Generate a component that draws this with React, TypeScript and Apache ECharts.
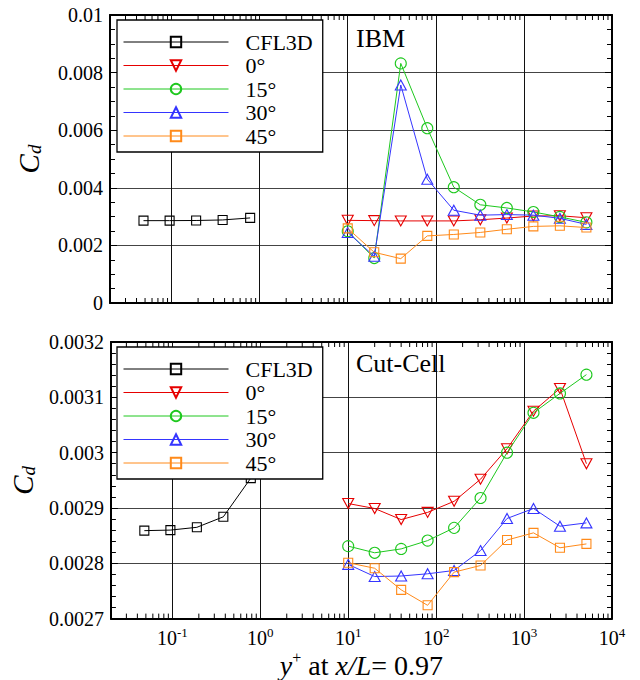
import React, { useEffect, useRef } from 'react';
import * as echarts from 'echarts';

const SERIES_NAMES = ['CFL3D', '0°', '15°', '30°', '45°'];
const SERIES_COLORS = ['#000000', '#e60000', '#1ec81e', '#3535ff', '#ff8a1a'];

const YPLUS_CFL3D = [0.048, 0.095, 0.19, 0.38, 0.78];
const YPLUS_GRID = [10, 20, 40, 80, 160, 320, 640, 1280, 2560, 5120];

const CFL3D_CD = [0.002859, 0.00286, 0.002865, 0.002884, 0.002954];

const IBM_0 = [0.00287, 0.00286, 0.00285, 0.00285, 0.00285, 0.00289, 0.00295, 0.00302, 0.00303, 0.00296];
const IBM_15 = [0.00249, 0.00156, 0.00832, 0.00607, 0.00402, 0.00341, 0.0033, 0.00316, 0.00299, 0.0028];
const IBM_30 = [0.00245, 0.00162, 0.00757, 0.0043, 0.00322, 0.00305, 0.00307, 0.00305, 0.00294, 0.00273];
const IBM_45 = [0.00259, 0.00176, 0.00154, 0.00233, 0.00238, 0.00245, 0.00256, 0.00266, 0.00268, 0.00262];

const CC_0 = [0.002908, 0.002899, 0.002879, 0.002892, 0.002912, 0.002952, 0.003007, 0.003075, 0.003116, 0.00298];
const CC_15 = [0.002831, 0.002819, 0.002826, 0.002841, 0.002864, 0.002918, 0.003, 0.003072, 0.003107, 0.003141];
const CC_30 = [0.002798, 0.002776, 0.002777, 0.002781, 0.002787, 0.002823, 0.002881, 0.002899, 0.002867, 0.002873];
const CC_45 = [0.002801, 0.002791, 0.002752, 0.002724, 0.002784, 0.002796, 0.002842, 0.002855, 0.002828, 0.002835];

const X_MIN = 0.02;
const X_MAX = 10000;
const TOP_Y = { min: 0, max: 0.01, interval: 0.002, minor: 4 };
const BOT_Y = { min: 0.0027, max: 0.0032, interval: 0.0001, minor: 5 };

// minor tick multiples within each decade of the log axis
const MINOR_MULT = [2, 3, 4, 5, 6, 7, 8, 9];
const DECADES = [0.01, 0.1, 1, 10, 100, 1000];

const FONT = '"Liberation Serif", "Times New Roman", serif';

function zip(xs: number[], ys: number[]) {
  return xs.map((x, i) => [x, ys[i]]);
}

export default function App() {
  const ref = useRef<HTMLDivElement>(null);

  useEffect(() => {
    if (!ref.current) return;
    const chart = echarts.init(ref.current, undefined, { renderer: 'svg' });

    const minorX: number[] = [];
    DECADES.forEach((d) => MINOR_MULT.forEach((m) => {
      const v = m * d;
      if (v > X_MIN * 1.0001 && v < X_MAX) minorX.push(v);
    }));

    const symbols = [
      { symbol: 'rect', size: 9, rotate: 0 },
      { symbol: 'triangle', size: [11, 10], rotate: 180 },
      { symbol: 'circle', size: 11, rotate: 0 },
      { symbol: 'triangle', size: [11, 10], rotate: 0 },
      { symbol: 'rect', size: 9, rotate: 0 },
    ];

    const panels = [
      [zip(YPLUS_CFL3D, CFL3D_CD), zip(YPLUS_GRID, IBM_0), zip(YPLUS_GRID, IBM_15), zip(YPLUS_GRID, IBM_30), zip(YPLUS_GRID, IBM_45)],
      [zip(YPLUS_CFL3D, CFL3D_CD), zip(YPLUS_GRID, CC_0), zip(YPLUS_GRID, CC_15), zip(YPLUS_GRID, CC_30), zip(YPLUS_GRID, CC_45)],
    ];
    const yRanges = [TOP_Y, BOT_Y];

    const series: any[] = [];
    panels.forEach((panel, pi) => {
      panel.forEach((data, si) => {
        const c = SERIES_COLORS[si];
        series.push({
          type: 'line',
          name: SERIES_NAMES[si],
          xAxisIndex: pi * 2,
          yAxisIndex: pi * 2,
          data,
          symbol: symbols[si].symbol,
          symbolSize: symbols[si].size,
          symbolRotate: symbols[si].rotate,
          showAllSymbol: true,
          lineStyle: { color: c, width: 1 },
          itemStyle: { color: 'rgba(255,255,255,0)', borderColor: c, borderWidth: 1.1 },
          emphasis: { disabled: true },
          z: 3 + si,
        });
      });
      const yr = yRanges[pi];
      series.push({
        type: 'custom',
        name: 'minor-x-' + pi,
        xAxisIndex: pi * 2,
        yAxisIndex: pi * 2,
        silent: true,
        clip: false,
        z: 10,
        data: minorX.map((x) => [x, yr.min]),
        renderItem: (params: any, api: any) => {
          const x = api.value(0);
          const b = api.coord([x, yr.min]);
          const t = api.coord([x, yr.max]);
          const st = { stroke: '#000', lineWidth: 1 };
          return {
            type: 'group',
            children: [
              { type: 'line', shape: { x1: b[0], y1: b[1], x2: b[0], y2: b[1] - 5 }, style: st },
              { type: 'line', shape: { x1: t[0], y1: t[1], x2: t[0], y2: t[1] + 5 }, style: st },
            ],
          };
        },
      });
    });

    const fmtY = (v: number) => {
      const s = parseFloat(v.toPrecision(6));
      return String(s);
    };
    const fmtX = (v: number) => {
      const l = Math.log10(v);
      const r = Math.round(l);
      if (Math.abs(l - r) > 1e-6) return '';
      return '{b|10}{s|' + r + '}';
    };

    const frameLine = { show: true, onZero: false, lineStyle: { color: '#000', width: 2 } };

    const xAxes: any[] = [];
    const yAxes: any[] = [];
    [0, 1].forEach((gi) => {
      const isBottom = gi === 1;
      xAxes.push({
        type: 'log',
        gridIndex: gi,
        min: X_MIN,
        max: X_MAX,
        position: 'bottom',
        axisLine: frameLine,
        axisTick: { show: false },
        axisLabel: isBottom
          ? {
              show: true,
              formatter: fmtX,
              interval: 0,
              showMinLabel: true,
              showMaxLabel: true,
              margin: 7,
              color: '#000',
              fontFamily: FONT,
              rich: {
                b: { fontFamily: FONT, fontSize: 20, color: '#000', lineHeight: 22, verticalAlign: 'bottom' },
                s: { fontFamily: FONT, fontSize: 13, color: '#000', lineHeight: 22, verticalAlign: 'top', padding: [0, 0, 10, 0] },
              },
            }
          : { show: false },
        splitLine: { show: true, lineStyle: { color: '#111', width: 1 } },
        name: isBottom ? '{i|y}{p|+}{n| at }{i|x/L}{n|= 0.97}' : '',
        nameLocation: 'middle',
        nameGap: 17,
        nameTextStyle: {
          fontFamily: FONT,
          rich: {
            i: { fontFamily: FONT, fontSize: 28, fontStyle: 'italic', color: '#000' },
            n: { fontFamily: FONT, fontSize: 28, color: '#000' },
            p: { fontFamily: FONT, fontSize: 16, color: '#000', padding: [0, 0, 15, 0] },
          },
        },
      });
      xAxes.push({
        type: 'log',
        gridIndex: gi,
        min: X_MIN,
        max: X_MAX,
        position: 'top',
        axisLine: frameLine,
        axisTick: { show: false },
        axisLabel: { show: false },
        splitLine: { show: false },
      });
      const yr = yRanges[gi];
      yAxes.push({
        type: 'value',
        gridIndex: gi,
        min: yr.min,
        max: yr.max,
        interval: yr.interval,
        position: 'left',
        axisLine: frameLine,
        axisTick: { show: true, inside: true, length: 7, lineStyle: { color: '#000', width: 1 } },
        minorTick: { show: true, splitNumber: yr.minor, length: 5, lineStyle: { color: '#000', width: 1 } },
        axisLabel: { show: true, formatter: fmtY, fontFamily: FONT, fontSize: 20, color: '#000', margin: 7 },
        splitLine: { show: true, lineStyle: { color: '#444', width: 1.2 } },
        name: '{c|C}{d|d}',
        nameLocation: 'middle',
        nameRotate: 90,
        nameGap: 66,
        nameTextStyle: {
          fontFamily: FONT,
          rich: {
            c: { fontFamily: FONT, fontSize: 29, fontStyle: 'italic', color: '#000' },
            d: { fontFamily: FONT, fontSize: 19, fontStyle: 'italic', color: '#000', padding: [12, 0, 0, 0] },
          },
        },
      });
      yAxes.push({
        type: 'value',
        gridIndex: gi,
        min: yr.min,
        max: yr.max,
        interval: yr.interval,
        position: 'right',
        axisLine: frameLine,
        axisTick: { show: true, inside: true, length: 7, lineStyle: { color: '#000', width: 1 } },
        minorTick: { show: true, splitNumber: yr.minor, length: 5, lineStyle: { color: '#000', width: 1 } },
        axisLabel: { show: false },
        splitLine: { show: false },
      });
    });

    const legendBase = {
      orient: 'vertical',
      left: 117,
      data: SERIES_NAMES,
      selectedMode: false,
      backgroundColor: '#fff',
      borderColor: '#000',
      borderWidth: 1.3,
      borderRadius: 0,
      padding: [11, 10, 5, 6],
      itemWidth: 105,
      itemHeight: 13,
      itemGap: 1.5,
      lineStyle: { width: 1 },
      textStyle: { fontFamily: FONT, fontSize: 22, color: '#000', lineHeight: 20, padding: [0, 0, 0, 12] },
      z: 20,
    };

    const option: any = {
      animation: false,
      backgroundColor: '#fff',
      textStyle: { fontFamily: FONT },
      grid: [
        { left: 110, top: 15, width: 502, height: 288, containLabel: false },
        { left: 110, top: 342, width: 502, height: 288, containLabel: false },
      ],
      xAxis: xAxes,
      yAxis: yAxes,
      legend: [
        { ...legendBase, top: 20 },
        { ...legendBase, top: 347 },
      ],
      graphic: [
        { type: 'text', left: 356, top: 25, z: 30, style: { text: 'IBM', font: '26px "Liberation Serif"', fill: '#000' } },
        { type: 'text', left: 356, top: 350, z: 30, style: { text: 'Cut-Cell', font: '26px "Liberation Serif"', fill: '#000' } },
      ],
      series,
    };

    chart.setOption(option);
    return () => chart.dispose();
  }, []);

  return <div ref={ref} style={{ position: 'fixed', left: 0, top: 0, width: 640, height: 680, background: '#fff' }} />;
}
